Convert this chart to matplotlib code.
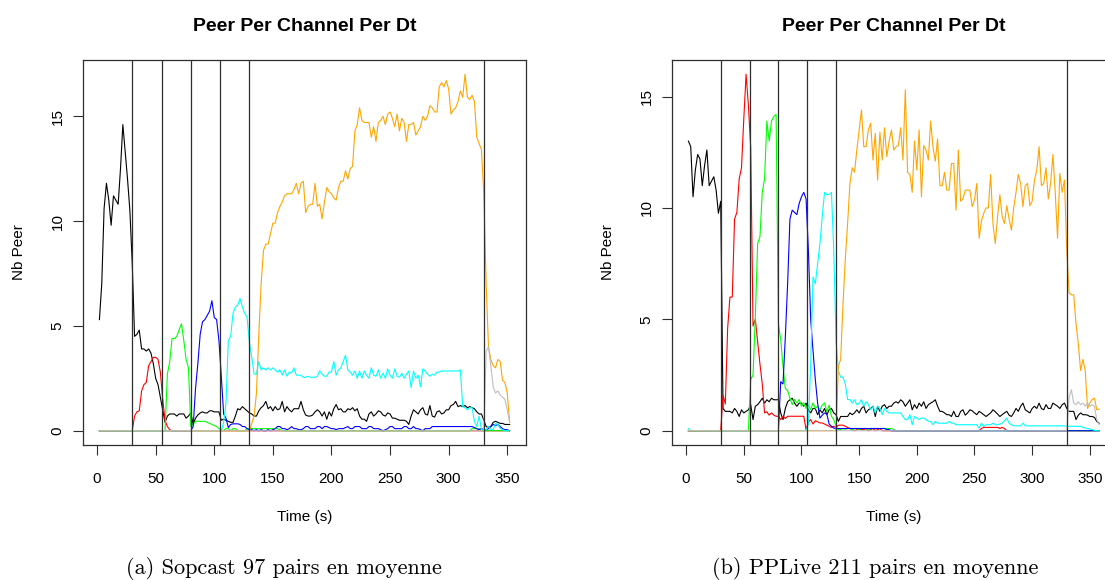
import numpy as np
import matplotlib
matplotlib.use("Agg")
import matplotlib.pyplot as plt

# ---------------------------------------------------------------------------
# Sampling instants (s) of the two captures
# ---------------------------------------------------------------------------
t_sop = np.arange(2, 353, 2)
t_ppl = np.arange(2, 359, 2)

# Channel switch instants (s)
switch_times = [30, 55, 80, 105, 130, 330]

# ---------------------------------------------------------------------------
# Sopcast: peers per channel, one segment list per channel (zero elsewhere)
# ---------------------------------------------------------------------------
sop_black = [(2, [
    5.3, 7.0, 10.6, 11.8, 11.0, 9.8, 11.2, 11.0, 10.8, 12.5, 14.6, 13.3, 12.0, 10.5, 8.0,
    4.5, 4.6, 4.8, 3.9, 3.9, 3.8, 3.9, 3.7, 3.2, 2.5, 2.2, 1.6, 1.0, 0.4, 0.7,
    0.8, 0.8, 0.8, 0.7, 0.8, 0.8, 0.8, 0.6, 0.7, 0.85, 0.3, 0.6, 0.75, 0.85, 0.9,
    0.85, 0.85, 0.95, 0.95, 0.9, 0.9, 0.9, 0.5, 0.55, 0.5, 0.45, 0.4, 0.4, 0.7, 1.05,
    1.0, 1.15, 1.05, 0.95, 0.85, 0.8, 0.7, 0.7, 0.95, 1.1, 1.2, 1.4, 1.05, 1.15, 0.95,
    1.15, 1.0, 1.05, 1.4, 0.9, 1.15, 1.0, 0.9, 1.05, 1.05, 1.05, 1.4, 1.0, 0.75, 0.7,
    0.7, 0.75, 0.9, 1.0, 0.9, 0.7, 0.9, 0.55, 0.9, 0.7, 1.05, 1.25, 1.0, 1.05, 0.9,
    0.9, 1.05, 1.0, 1.1, 0.95, 1.05, 0.7, 0.55, 0.55, 0.45, 0.8, 0.9, 0.7, 0.8, 0.95,
    0.9, 0.75, 0.7, 0.85, 0.8, 0.6, 0.6, 0.55, 0.5, 0.5, 0.5, 0.45, 0.3, 0.7, 1.0,
    0.9, 0.8, 1.0, 1.1, 0.8, 0.75, 1.2, 0.7, 0.65, 0.9, 0.95, 0.8, 0.85, 1.0, 1.0,
    1.2, 1.25, 1.4, 1.15, 1.2, 1.15, 1.2, 1.1, 1.15, 1.1, 1.05, 0.9, 0.8, 0.8, 0.5,
    0.2, 0.15, 0.2, 0.4, 0.45, 0.4, 0.35, 0.35, 0.3, 0.3, 0.3])]

sop_red = [(30, [0, 0.7, 0.9, 0.95, 1.9, 2.2, 2.3, 3.1, 3.3, 3.5, 3.5, 3.4, 2.8,
                 1.5, 0.5, 0.2, 0.05, 0])]

sop_green = [(58, [0, 2.7, 3.3, 4.4, 4.4, 4.5, 4.8, 5.1, 4.3, 3.4, 3.0, 0.2, 0.3,
                   0.45, 0.45, 0.45, 0.45, 0.45, 0.4, 0.35, 0.3, 0.25, 0.2, 0.1, 0.05,
                   0, 0.1, 0.1, 0, 0.1, 0.1, 0, 0, 0, 0, 0.1, 0.1, 0.1, 0.1, 0.1,
                   0.1, 0.1, 0.1, 0.1, 0.1, 0.1, 0.1, 0.1, 0.1, 0.05]),
             (320, [0.1, 0.1, 0.1, 0.1])]

sop_blue = [(80, [0, 0.2, 2.0, 3.2, 4.6, 5.2, 5.3, 5.5, 5.7, 6.2, 5.4, 5.3, 4.3,
                  2.6, 0.8, 0.6, 0.15, 0.3, 0.33, 0.33, 0.33, 0.3, 0.2, 0.2, 0.1, 0.05]),
            (132, [0.05, 0, 0.05, 0, 0.05, 0, 0, 0.05, 0, 0.05,
                   0.1, 0.2, 0.2, 0.1, 0.1, 0.05, 0.1, 0.2, 0.1, 0.1,
                   0.05, 0.05, 0.1, 0.2, 0.2, 0.1, 0.1, 0.1, 0.2, 0.2,
                   0.1, 0.2, 0.2, 0.15, 0.1, 0.1, 0.05, 0.1, 0.1, 0.1,
                   0.15, 0.2, 0.1, 0.1, 0.2, 0.2, 0.2, 0.1, 0.1, 0.1,
                   0.2, 0.2, 0.1, 0.1, 0.1, 0.05, 0, 0.05, 0.1, 0.2,
                   0.2, 0.1, 0.1, 0.1, 0.1, 0.2, 0.2, 0.1, 0.1, 0.2,
                   0.1, 0.1, 0.05, 0, 0.1, 0.1, 0.1, 0.2, 0.2, 0.2,
                   0.2, 0.2, 0.2, 0.2, 0.2, 0.2, 0.2, 0.2, 0.2, 0.2,
                   0.2, 0.2, 0.2, 0.2, 0.2, 0.15, 0.1, 0.05, 0.1, 0.05,
                   0.05, 0.1, 0.2, 0.3, 0.25, 0.3, 0.2, 0.1, 0.05, 0.05, 0.0])]

sop_cyan = [(106, [
    0, 0.4, 1.3, 4.3, 4.5, 5.6, 5.9, 6.0, 6.3, 5.9,
    5.6, 5.4, 4.2, 3.5, 2.7, 2.7, 3.3, 2.9, 3.0, 2.9,
    3.0, 2.9, 3.0, 2.9, 2.8, 2.9, 2.65, 2.9, 2.6, 2.8,
    2.75, 3.0, 2.65, 2.65, 2.65, 2.55, 2.55, 2.6, 2.55, 2.55,
    2.55, 2.6, 2.85, 2.7, 2.6, 2.6, 2.8, 2.8, 3.3, 2.65,
    2.9, 3.0, 3.3, 3.6, 2.9, 2.8, 2.65, 2.85, 2.5, 2.85,
    2.5, 2.85, 2.65, 2.5, 3.0, 2.65, 2.6, 2.9, 2.5, 2.75,
    2.5, 2.95, 2.65, 2.5, 2.95, 2.6, 2.55, 2.75, 2.5, 2.7,
    2.85, 2.05, 2.85, 2.5, 2.65, 2.1, 2.95, 2.85, 2.7, 2.6,
    2.7, 2.65, 2.8, 2.8, 2.85, 2.85, 2.85, 2.85, 2.85, 2.85,
    2.85, 2.85, 2.9, 1.15, 1.1, 1.0, 1.1, 1.1, 0.45, 0.2,
    0.7, 0.05, 0.05, 0.05, 0.2, 0.05, 0.05, 0.35, 0.3, 0.1,
    0.05, 0, 0, 0])]

sop_orange = [(130, [
    0, 0.35, 0.7, 1.8, 4.6, 7.0, 8.6, 8.9, 8.9, 9.4,
    9.9, 9.9, 10.4, 10.7, 10.9, 11.2, 11.3, 11.3, 11.3, 11.5,
    11.8, 11.3, 11.8, 11.9, 10.4, 10.7, 10.8, 10.8, 11.8, 10.7,
    10.8, 10.1, 10.9, 11.6, 11.4, 11.3, 11.1, 11.0, 11.6, 11.9,
    11.9, 12.4, 12.0, 12.5, 12.6, 14.3, 14.6, 15.4, 14.8, 14.7,
    14.7, 14.7, 14.0, 14.5, 13.8, 14.7, 14.8, 15.0, 14.6, 15.1,
    15.2, 14.9, 14.5, 15.1, 14.3, 14.9, 14.7, 13.8, 14.6, 14.6,
    14.7, 14.1, 14.3, 14.5, 15.0, 14.8, 15.0, 15.5, 15.4, 15.2,
    15.2, 16.4, 16.6, 16.4, 16.7, 16.3, 15.1, 15.3, 15.4, 15.7,
    16.2, 15.9, 17.0, 15.9, 15.8, 16.0, 15.7, 14.0, 13.7, 13.4,
    11.3, 7.0, 4.0, 3.4, 3.1, 3.0, 3.4, 3.3, 2.4, 2.3,
    1.8, 0.4])]

sop_gray = [(330, [0, 3.8, 4.0, 3.1, 2.1, 1.8, 1.9, 1.7, 1.6, 1.5, 1.0, 0.4])]

# ---------------------------------------------------------------------------
# PPLive: peers per channel
# ---------------------------------------------------------------------------
ppl_black = [(2, [
    13.0, 12.75, 10.5, 11.7, 12.4, 12.2, 11.0, 11.9, 12.6, 11.0, 11.2, 11.4, 10.8, 9.76, 10.3,
    1.0, 0.87, 0.87, 0.87, 0.8, 1.0, 0.87, 0.64, 0.94, 0.8, 0.87, 0.94, 1.17, 0.5, 1.1,
    1.17, 1.3, 1.46, 1.24, 1.39, 1.3, 1.46, 1.39, 1.39, 1.39, 0.8, 0.5, 1.0, 1.3, 1.39,
    1.46, 1.24, 1.1, 1.24, 1.24, 1.1, 1.24, 0.94, 0.8, 1.0, 1.0, 0.72, 0.94, 0.8, 1.0,
    0.72, 0.94, 1.0, 0.8, 0.72, 0.42, 0.64, 0.64, 0.64, 0.64, 0.8, 0.72, 0.8, 0.94, 0.8,
    1.0, 1.1, 0.8, 0.94, 1.0, 1.1, 0.64, 1.1, 0.87, 1.1, 1.17, 1.0, 1.1, 1.1, 1.24,
    1.3, 1.24, 1.39, 1.3, 1.1, 1.24, 1.39, 0.94, 1.17, 1.0, 1.24, 1.1, 1.3, 1.0, 1.17,
    1.24, 1.3, 1.39, 1.1, 0.87, 0.87, 0.8, 0.72, 0.72, 0.64, 0.87, 0.64, 0.64, 0.87, 0.94,
    0.7, 0.8, 0.94, 0.9, 0.8, 0.72, 0.87, 0.8, 0.72, 0.64, 0.72, 0.8, 0.94, 0.85, 0.75,
    0.64, 0.72, 0.8, 0.87, 0.7, 0.64, 0.8, 1.0, 0.87, 1.1, 1.24, 0.94, 0.87, 0.8, 1.0,
    1.1, 1.0, 1.24, 1.0, 0.94, 1.17, 1.0, 1.0, 1.24, 1.17, 1.1, 1.0, 1.17, 1.24, 1.0,
    0.87, 0.87, 0.87, 0.5, 0.7, 0.8, 0.72, 0.72, 0.7, 0.64, 0.64, 0.6, 0.42, 0.34])]

ppl_red = [(30, [0, 1.6, 1.2, 4.6, 6.0, 6.0, 9.5, 9.8, 11.3, 11.8,
                 14.0, 16.0, 14.6, 12.7, 4.7, 5.0, 4.0, 3.0, 2.1, 0.8,
                 0.85, 0.7, 0.8, 0.7, 0.65, 0.65, 0.5, 0.65, 0.55, 0.65,
                 0.65, 0.65, 0.65, 0.65, 0.65, 0.65, 0.65, 0.05, 0.4, 0.5,
                 0.3, 0.45, 0.4, 0.35, 0.35, 0.3, 0.25, 0.2, 0.15, 0.2,
                 0.15, 0.25, 0.25, 0.25, 0.2, 0.15, 0.1, 0.05, 0, 0.05,
                 0.1, 0.05, 0.05, 0.1, 0, 0.05, 0.1, 0, 0.05, 0.1, 0]),
           (256, [0.1, 0.15, 0.15, 0.15, 0.15, 0.15, 0.15, 0.15, 0.1, 0.15, 0.1])]

ppl_green = [(54, [0, 2.3, 2.5, 5.1, 8.4, 8.7, 10.7, 11.3, 13.9, 13.0,
                   13.9, 14.1, 14.2, 4.8, 4.1, 2.9, 1.9, 1.8, 1.46, 1.17,
                   1.4, 1.25, 1.4, 1.1, 1.25, 1.0, 1.15, 0.95, 1.25, 1.0,
                   1.1, 0.95, 1.15, 1.25, 0.85, 1.15, 0.65, 0.5, 0.2, 0.05,
                   0.05, 0.1, 0.07, 0.1, 0.1, 0.05, 0.1, 0.1, 0.05, 0.1,
                   0.1, 0.1, 0.05, 0.1, 0.1, 0.1, 0.1, 0.1, 0.1, 0.1,
                   0.1, 0.1, 0.1, 0.05])]

ppl_blue = [(80, [0, 2.2, 2.1, 4.2, 6.6, 9.5, 9.9, 9.8, 9.7, 10.2,
                  10.5, 10.7, 10.4, 8.1, 5.0, 3.6, 2.3, 1.24, 0.57, 0.7,
                  0.8, 0.75, 0.3, 0.2, 0.12, 0.08, 0.1, 0.1, 0.1, 0.1,
                  0.1, 0.1, 0.1, 0.1, 0.1, 0.1, 0.1, 0.1, 0.1, 0.1,
                  0.1, 0.1, 0.1, 0.1, 0.1, 0.1, 0.1, 0.05, 0.05])]

ppl_cyan = [(2, [0.1, 0]),
            (104, [0, 0.3, 3.0, 6.9, 6.6, 7.5, 8.4, 9.6, 10.7, 10.6,
                   10.6, 10.7, 8.1, 4.0, 2.7, 2.4, 2.4, 2.1, 1.4, 1.4,
                   1.24, 1.39, 1.17, 1.24, 1.39, 1.1, 1.3, 1.17, 0.94, 1.1,
                   0.8, 1.1, 1.0, 0.72, 1.0, 0.87, 0.8, 0.8, 0.8, 0.8,
                   0.8, 0.8, 0.64, 0.5, 0.5, 0.72, 0.27, 0.64, 0.57, 0.5,
                   0.57, 0.57, 0.5, 0.42, 0.42, 0.27, 0.42, 0.34, 0.34, 0.34,
                   0.34, 0.34, 0.42, 0.34, 0.34, 0.27, 0.27, 0.27, 0.27, 0.27,
                   0.27, 0.27, 0.27, 0.27, 0.27, 0.12, 0.34, 0.2, 0.27, 0.27,
                   0.27, 0.34, 0.27, 0.27, 0.3, 0.34, 0.45, 0.57, 0.34, 0.27,
                   0.22, 0.22, 0.22, 0.22, 0.34, 0.22, 0.22, 0.22, 0.22, 0.22,
                   0.22, 0.22, 0.22, 0.22, 0.22, 0.22, 0.22, 0.22, 0.22, 0.22,
                   0.22, 0.22, 0.22, 0.2, 0.2, 0.2, 0.2, 0.2, 0.2, 0.2,
                   0.15, 0.12, 0.1, 0.08, 0.05, 0.02, 0, 0])]

ppl_orange = [(130, [
    0, 2.9, 3.2, 5.7, 7.7, 9.3, 11.1, 11.8, 11.6, 12.6,
    13.5, 14.4, 12.75, 12.75, 13.5, 13.8, 12.15, 13.35, 11.25, 13.4,
    12.15, 13.6, 12.3, 13.0, 13.5, 12.6, 12.75, 12.8, 13.6, 12.15,
    15.3, 11.6, 11.5, 10.7, 13.0, 11.7, 13.5, 10.5, 12.8, 12.6,
    12.15, 13.9, 12.75, 12.1, 13.1, 11.0, 11.0, 11.6, 10.8, 10.8,
    12.0, 12.0, 9.9, 12.6, 10.3, 10.4, 10.8, 10.8, 10.8, 10.06,
    10.36, 11.1, 8.64, 9.4, 9.76, 10.0, 10.0, 11.5, 9.3, 8.4,
    9.6, 10.6, 9.6, 9.3, 10.1, 9.5, 9.0, 10.0, 10.7, 11.5,
    11.1, 10.06, 11.0, 11.1, 10.1, 10.3, 11.25, 11.7, 12.75, 11.0,
    11.1, 11.8, 10.4, 11.1, 12.4, 10.7, 8.64, 11.55, 10.7, 11.25,
    8.1, 6.2, 6.1, 6.1, 4.8, 3.9, 2.7, 3.2, 2.7, 1.0,
    1.24, 1.4, 1.46, 0.94, 0.97])]

ppl_gray = [(330, [0, 1.5, 1.84, 1.24, 1.17, 1.3, 1.17, 1.24, 1.1, 1.24,
                   1.1, 1.17, 1.1, 0.5, 0.27])]

channel_colors = ["black", "#FF0000", "#00FF00", "#0000FF", "#00FFFF",
                  "#FFA500", "#BEBEBE"]


def build(t, segments):
    """Expand a list of (start time, values) segments onto the time grid."""
    y = np.zeros(len(t))
    for t0, vals in segments:
        i0 = int(np.searchsorted(t, t0))
        y[i0:i0 + len(vals)] = vals
    return y


sop_channels = [sop_black, sop_red, sop_green, sop_blue, sop_cyan, sop_orange, sop_gray]
ppl_channels = [ppl_black, ppl_red, ppl_green, ppl_blue, ppl_cyan, ppl_orange, ppl_gray]

# ---------------------------------------------------------------------------
# Figure
# ---------------------------------------------------------------------------
plt.rcParams["font.family"] = ["Liberation Sans", "DejaVu Sans"]
W, H = 1105, 580
fig = plt.figure(figsize=(W / 100, H / 100), dpi=100)

edge = "#2e2e2e"


def panel(rect, t, channels, ymax, yticks):
    ax = fig.add_axes(rect)
    for seg, col in zip(channels, channel_colors):
        ax.plot(t, build(t, seg), color=col, lw=0.8)
    for s in switch_times:
        ax.axvline(s, color=edge, lw=0.9)
    pad_x = (t[-1] - t[0]) * 0.04
    ax.set_xlim(t[0] - pad_x, t[-1] + pad_x)
    ax.set_ylim(-0.04 * ymax, 1.04 * ymax)
    ax.set_xticks([0, 50, 100, 150, 200, 250, 300, 350])
    ax.set_yticks(yticks)
    ax.tick_params(direction="out", length=7.2, width=0.8, color=edge,
                   labelsize=11)
    ax.tick_params(axis="x", pad=12.5)
    ax.tick_params(axis="y", pad=6)
    for lab in ax.get_yticklabels():
        lab.set_rotation(90)
        lab.set_va("center")
    for sp in ax.spines.values():
        sp.set_color(edge)
        sp.set_linewidth(0.9)
    ax.set_xlabel("Time (s)", fontsize=11, labelpad=17)
    ax.set_ylabel("Nb Peer", fontsize=11, labelpad=17.5)
    ax.set_title("Peer Per Channel Per Dt", fontsize=14, fontweight="bold",
                 pad=21)
    return ax


bottom = (H - 445) / H
height = 385 / H
ax1 = panel([83 / W, bottom, 443 / W, height], t_sop, sop_channels, 17,
            [0, 5, 10, 15])
ax2 = panel([672 / W, bottom, 443.5 / W, height], t_ppl, ppl_channels, 16,
            [0, 5, 10, 15])

fig.text(126 / W, 1 - 574 / H, "(a) Sopcast 97 pairs en moyenne",
         family="cmr10", fontsize=16, ha="left", va="baseline")
fig.text(1038 / W, 1 - 574 / H, "(b) PPLive 211 pairs en moyenne",
         family="cmr10", fontsize=16, ha="right", va="baseline")

fig.savefig("out.png", dpi=100)
